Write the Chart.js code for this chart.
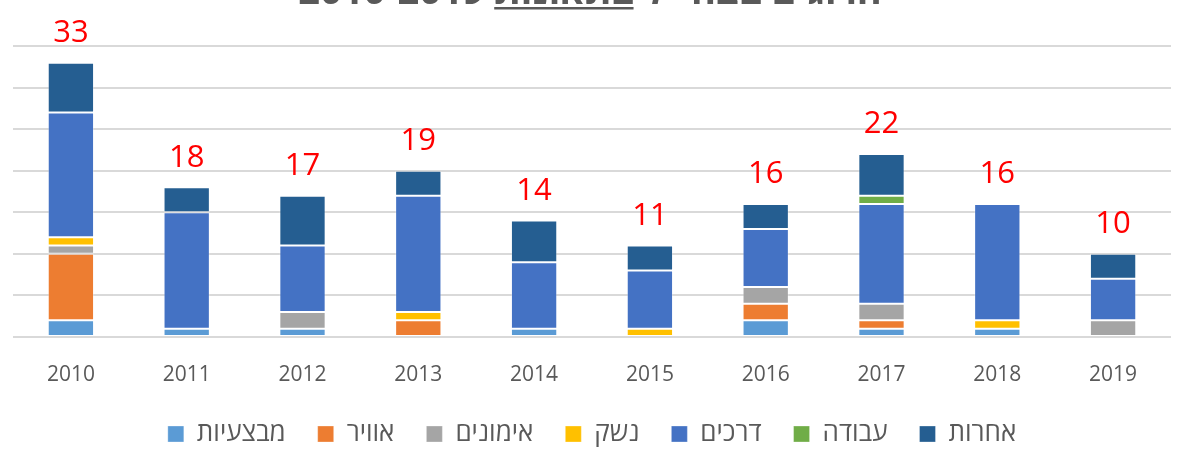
<!DOCTYPE html>
<html>
<head>
<meta charset="utf-8">
<script src="https://cdn.jsdelivr.net/npm/chart.js@4"></script>
<style>
  html, body { margin: 0; padding: 0; background: #fff; }
  #wrap { width: 1178px; height: 455px; position: relative; }
</style>
</head>
<body>
<div id="wrap"><canvas id="myChart"></canvas></div>
<script>
// Data
////////////////////////////////////////////////
const years = ['2010', '2011', '2012', '2013', '2014', '2015', '2016', '2017', '2018', '2019'];

const mivtzaiot = [2, 1, 1, 0, 1, 0, 2, 1, 1, 0];   // מבצעיות
const avir      = [8, 0, 0, 2, 0, 0, 2, 1, 0, 0];   // אוויר
const imunim    = [1, 0, 2, 0, 0, 0, 2, 2, 0, 2];   // אימונים
const neshek    = [1, 0, 0, 1, 0, 1, 0, 0, 1, 0];   // נשק
const drachim   = [15, 14, 8, 14, 8, 7, 7, 12, 14, 5]; // דרכים
const avoda     = [0, 0, 0, 0, 0, 0, 0, 1, 0, 0];   // עבודה
const acherot   = [6, 3, 6, 3, 5, 3, 3, 5, 0, 3];   // אחרות

// totals as printed above the bars
const totalLabels = ['33', '18', '17', '19', '14', '11', '16', '22', '16', '10'];

const yTicks = { min: 0, max: 35, step: 5 };

const chartTitle = 'הרוגים בצה״ל';
const titleUnderlined = 'בתאונות';
const titleYears = '2010-2019';

// Helpers
////////////////////////////////////////////////
const FONT = "'Open Sans', 'DejaVu Sans', sans-serif";
const GREY_TEXT = '#595959';

function makeSet(label, values, colour) {
    return {
        label: label,
        data: values,
        backgroundColor: colour,
        borderColor: 'rgba(255,255,255,0.3)',
        borderWidth: 1,
        borderSkipped: false,
        barPercentage: 0.8,
        categoryPercentage: 0.5
    };
}

// red totals over each stack
const totalsPlugin = {
    id: 'totals',
    afterDatasetsDraw(chart) {
        const ctx = chart.ctx;
        const x = chart.scales.x, y = chart.scales.y;
        ctx.save();
        ctx.fillStyle = '#FF0000';
        ctx.font = '31px ' + FONT;
        ctx.textAlign = 'center';
        ctx.textBaseline = 'bottom';
        years.forEach((yr, i) => {
            let sum = 0;
            chart.data.datasets.forEach(ds => sum += ds.data[i]);
            ctx.fillText(totalLabels[i], x.getPixelForValue(i), y.getPixelForValue(sum) - 14);
        });
        ctx.restore();
    }
};

// title, mostly cut off by the top edge like in the original
const titlePlugin = {
    id: 'cutTitle',
    afterDraw(chart) {
        const ctx = chart.ctx;
        ctx.save();
        ctx.fillStyle = GREY_TEXT;
        ctx.font = 'bold 38px ' + FONT;
        ctx.textBaseline = 'alphabetic';
        ctx.textAlign = 'left';
        const gap = ctx.measureText(' ').width;
        const w1 = ctx.measureText(titleYears).width;
        const w2 = ctx.measureText(titleUnderlined).width;
        const w3 = ctx.measureText(chartTitle).width;
        const total = w1 + gap + w2 + gap + w3;
        let xPos = 590 - total / 2;
        const base = 4;
        ctx.fillText(titleYears, xPos, base);
        xPos += w1 + gap;
        ctx.fillText(titleUnderlined, xPos, base);
        ctx.fillRect(xPos, base + 3, w2, 2.5);
        xPos += w2 + gap;
        ctx.fillText(chartTitle, xPos, base);
        ctx.restore();
    }
};

// fixed legend height so the plot keeps its size
const legendHeight = {
    id: 'legendHeight',
    beforeInit(chart) {
        const origFit = chart.legend.fit;
        chart.legend.fit = function fit() {
            origFit.bind(chart.legend)();
            this.height = 66;
        };
    }
};

// Chart
////////////////////////////////////////////////
const data = {
    labels: years,
    datasets: [
        makeSet('מבצעיות', mivtzaiot, '#5B9BD5'),
        makeSet('אוויר', avir, '#ED7D31'),
        makeSet('אימונים', imunim, '#A5A5A5'),
        makeSet('נשק', neshek, '#FFC000'),
        makeSet('דרכים', drachim, '#4472C4'),
        makeSet('עבודה', avoda, '#70AD47'),
        makeSet('אחרות', acherot, '#255E91')
    ]
};

const config = {
    type: 'bar',
    data: data,
    options: {
        responsive: true,
        maintainAspectRatio: false,
        animation: false,
        layout: {
            padding: { top: 46, left: 13, right: 7, bottom: 0 }
        },
        scales: {
            x: {
                stacked: true,
                grid: { display: false },
                border: { display: false },
                ticks: {
                    color: GREY_TEXT,
                    font: { family: FONT, size: 21 },
                    padding: 17
                },
                afterFit(scale) { scale.height = 52; }
            },
            y: {
                stacked: true,
                min: yTicks.min,
                max: yTicks.max,
                ticks: { display: false, stepSize: yTicks.step },
                grid: { color: '#d9d9d9', lineWidth: 2, drawTicks: false },
                border: { display: false }
            }
        },
        plugins: {
            title: { display: false },
            tooltip: { enabled: false },
            legend: {
                position: 'bottom',
                labels: {
                    color: GREY_TEXT,
                    font: { family: FONT, size: 26 },
                    boxWidth: 16,
                    boxHeight: 16,
                    padding: 32
                }
            }
        }
    },
    plugins: [totalsPlugin, titlePlugin, legendHeight]
};

const myChart = new Chart(document.getElementById('myChart'), config);
</script>
</body>
</html>
